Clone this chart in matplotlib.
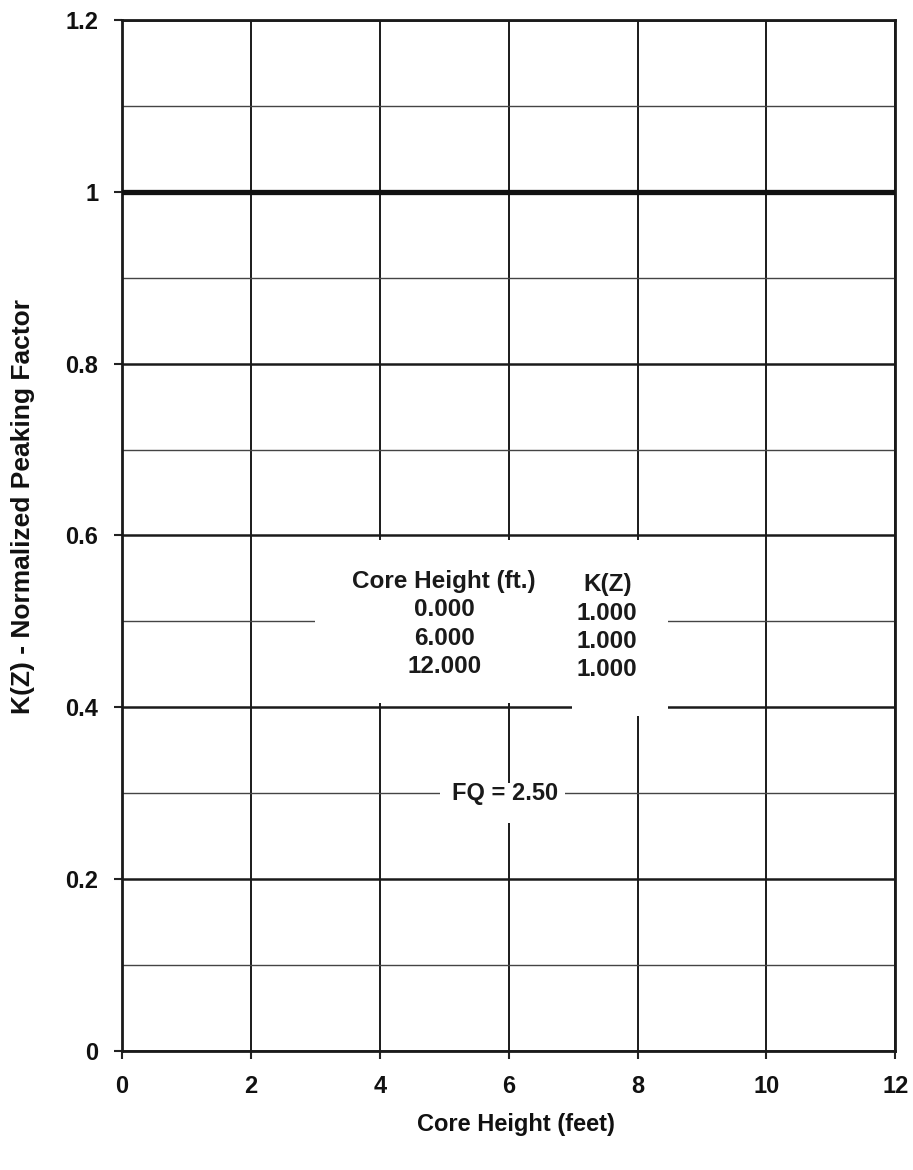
import numpy as np
import matplotlib.pyplot as plt
from matplotlib.patches import Rectangle

# K(Z) curve points
core_height = [0.0, 6.0, 12.0]
kz = [1.0, 1.0, 1.0]
fq = 2.50

x_ticks = [0, 2, 4, 6, 8, 10, 12]
y_ticks = [0, 0.2, 0.4, 0.6, 0.8, 1.0, 1.2]
y_tick_labels = ['0', '0.2', '0.4', '0.6', '0.8', '1', '1.2']

plt.rcParams['font.family'] = ['Liberation Sans', 'DejaVu Sans']
plt.rcParams['font.weight'] = 'bold'

fig = plt.figure(figsize=(9.13, 11.7), dpi=100)
ax = fig.add_axes([0.1336, 0.1017, 0.847, 0.8813])

ax.set_xlim(0, 12)
ax.set_ylim(0, 1.2)
ax.set_xticks(x_ticks)
ax.set_yticks(y_ticks)
ax.set_yticklabels(y_tick_labels)
ax.set_yticks(np.arange(0.1, 1.2, 0.2), minor=True)
ax.tick_params(axis='both', which='major', labelsize=17, length=6, width=1.5,
               pad=11, color='#222222', labelcolor='#111111')
ax.tick_params(axis='y', which='minor', length=0)
for lab in ax.get_xticklabels() + ax.get_yticklabels():
    lab.set_fontweight('bold')

# grid
ax.set_axisbelow(True)
ax.grid(axis='y', which='major', color='#1a1a1a', linewidth=1.8)
ax.grid(axis='y', which='minor', color='#444444', linewidth=1.0)
ax.grid(axis='x', which='major', color='#1a1a1a', linewidth=1.4)

for s in ax.spines.values():
    s.set_linewidth(2.0)
    s.set_color('#1a1a1a')

# the curve
ax.plot(core_height, kz, color='#111111', linewidth=3.8, zorder=3)

# white boxes behind the text table (they hide the grid)
ax.add_patch(Rectangle((2.99, 0.405), 5.48, 0.19, facecolor='white',
                       edgecolor='none', zorder=1))
ax.add_patch(Rectangle((6.98, 0.39), 1.49, 0.205, facecolor='white',
                       edgecolor='none', zorder=1))
ax.add_patch(Rectangle((4.93, 0.265), 1.94, 0.047, facecolor='white',
                       edgecolor='none', zorder=1))

col1 = 'Core Height (ft.)\n' + '\n'.join('%.3f' % v for v in core_height)
col2 = 'K(Z)\n' + '\n'.join('%.3f' % v for v in kz)
ax.text(5.0, 0.497, col1, ha='center', va='center', fontsize=17.5,
        fontweight='bold', linespacing=1.3, color='#1a1a1a', zorder=4)
ax.text(7.53, 0.493, col2, ha='center', va='center', fontsize=17.5,
        fontweight='bold', linespacing=1.3, color='#1a1a1a', zorder=4)
ax.text(5.95, 0.3, 'FQ = %.2f' % fq, ha='center', va='center', fontsize=17,
        fontweight='bold', color='#1a1a1a', zorder=4)

ax.set_xlabel('Core Height (feet)', fontsize=17, fontweight='bold',
              color='#111111')
ax.set_ylabel('K(Z) - Normalized Peaking Factor', fontsize=19,
              fontweight='bold', color='#111111')
ax.xaxis.set_label_coords(0.51, -0.06)
ax.yaxis.set_label_coords(-0.113, 0.528)

fig.savefig('out.png', dpi=100, facecolor='white')
